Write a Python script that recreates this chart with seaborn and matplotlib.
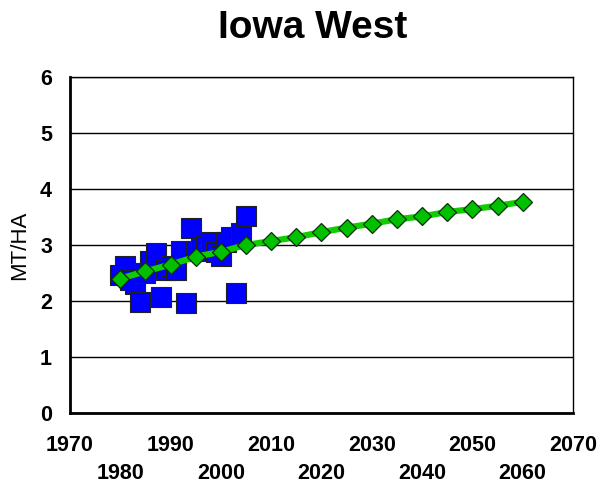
import pandas as pd
import numpy as np
import matplotlib
matplotlib.use("Agg")
import matplotlib.pyplot as plt
import seaborn as sns

# observed yields (MT/HA)
obs_years = [1980, 1981, 1982, 1983, 1984, 1985, 1986, 1987, 1988, 1989,
             1990, 1991, 1992, 1993, 1994, 1995, 1996, 1997, 1998, 1999,
             2000, 2001, 2002, 2003, 2004, 2005]
obs_yield = [2.46, 2.63, 2.38, 2.30, 1.99, 2.50, 2.72, 2.86, 2.08, 2.55,
             2.62, 2.55, 2.90, 1.96, 3.30, 2.90, 2.92, 2.98, 3.06, 2.88,
             2.80, 3.05, 3.15, 2.15, 3.22, 3.52]

# trend / projection
trend_years = [1980, 1985, 1990, 1995, 2000, 2005, 2010, 2015, 2020,
               2025, 2030, 2035, 2040, 2045, 2050, 2055, 2060]
trend_yield = [2.40, 2.53, 2.65, 2.79, 2.88, 3.00, 3.07, 3.14, 3.23,
               3.31, 3.38, 3.46, 3.51, 3.59, 3.64, 3.70, 3.77]

x_ticks = [1970, 1980, 1990, 2000, 2010, 2020, 2030, 2040, 2050, 2060, 2070]
y_ticks = [0, 1, 2, 3, 4, 5, 6]

obs = pd.DataFrame({"year": obs_years, "yield": obs_yield})
trend = pd.DataFrame({"year": trend_years, "yield": trend_yield})

sns.set_style("white")
plt.rcParams['font.family'] = ['Liberation Sans', 'DejaVu Sans']
plt.rcParams['text.color'] = 'black'
plt.rcParams['axes.labelcolor'] = 'black'
plt.rcParams['xtick.color'] = 'black'
plt.rcParams['ytick.color'] = 'black'

fig = plt.figure(figsize=(6.02, 4.88), dpi=100)
ax = fig.add_axes([0.1163, 0.1537, 0.8355, 0.6885])

for v in y_ticks:
    ax.axhline(v, color='black', lw=1.0, zorder=0)

sns.scatterplot(data=obs, x="year", y="yield", marker='s', s=195,
                color='#0000FF', edgecolor='#222222', linewidth=0.8,
                ax=ax, zorder=2, legend=False)
sns.lineplot(data=trend, x="year", y="yield", color='#11CC00', lw=4.5,
             marker='D', markersize=9.5, markerfacecolor='#00C000',
             markeredgecolor='#0a300a', markeredgewidth=0.9,
             ax=ax, zorder=3, legend=False)

ax.set_xlim(1970, 2070)
ax.set_ylim(0, 6)
ax.set_xticks(x_ticks)
ax.set_xticklabels([str(t) if i % 2 == 0 else "\n" + str(t)
                    for i, t in enumerate(x_ticks)],
                   fontsize=15.5, fontweight='bold', linespacing=1.45)
ax.set_yticks(y_ticks)
ax.set_yticklabels([str(t) for t in y_ticks], fontsize=15.5, fontweight='bold')
ax.tick_params(axis='x', length=0, pad=16)
ax.tick_params(axis='y', length=0, pad=13)
ax.set_xlabel("")
ax.set_ylabel("MT/HA", fontsize=16, labelpad=7)
ax.set_title("Iowa West", fontsize=28, fontweight='bold', pad=28, x=0.483)

for side in ['top', 'right']:
    ax.spines[side].set_color('black')
    ax.spines[side].set_linewidth(1.0)
for side in ['left', 'bottom']:
    ax.spines[side].set_color('black')
    ax.spines[side].set_linewidth(2.0)

fig.savefig("out.png", dpi=100)
